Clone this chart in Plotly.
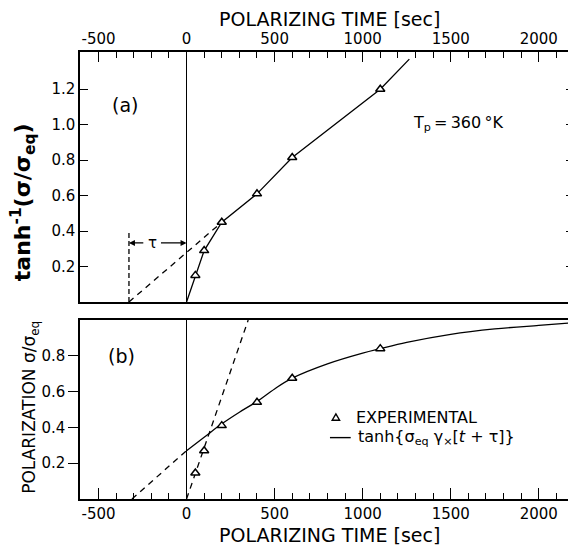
import plotly.graph_objects as go

# ---- data ----
t_exp = [50, 100, 200, 400, 600, 1100]
a_exp = [0.15, 0.29, 0.45, 0.61, 0.815, 1.20]          # tanh^-1(sigma/sigma_eq)
b_exp = [0.145, 0.27, 0.41, 0.54, 0.675, 0.84]         # sigma/sigma_eq

t_a_line = [0, 50, 100, 200, 400, 600, 1100, 1265]
a_line = [0, 0.15, 0.29, 0.45, 0.61, 0.815, 1.20, 1.37]
t_a_dash = [-327, 200]
a_dash = [0, 0.45]
t_tau_mark = [-327, -327]
a_tau_mark = [0, 0.395]
tau_start = -327
tau_arrow_level = 0.333

t_b_fit = [0, 100, 200, 300, 400, 500, 600, 800, 1000, 1100, 1250, 1500, 1750, 2000, 2200]
b_fit = [0.27, 0.345, 0.42, 0.485, 0.545, 0.615, 0.675, 0.755, 0.815, 0.84, 0.875, 0.92,
         0.95, 0.97, 0.985]
t_b_ext = [-310, 0]
b_ext = [0, 0.27]
t_b_init = [0, 350]
b_init = [0, 1.0]

x_ticks = [-500, 0, 500, 1000, 1500, 2000]
x_ticktext = ["-500", "0", "500", "1000", "1500", "2000"]
ya_ticks = [0.2, 0.4, 0.6, 0.8, 1.0, 1.2]
ya_ticktext = ["0.2", "0.4", "0.6", "0.8", "1.0", "1.2"]
yb_ticks = [0.2, 0.4, 0.6, 0.8]
yb_ticktext = ["0.2", "0.4", "0.6", "0.8"]

FONT = "DejaVu Sans"
BLK = "black"

fig = go.Figure()
line_w = 1.3
dash = "6px,5px"

# panel (a)
fig.add_trace(go.Scatter(x=t_a_line, y=a_line, mode="lines", line=dict(color=BLK, width=line_w),
                         xaxis="x", yaxis="y", showlegend=False))
fig.add_trace(go.Scatter(x=t_a_dash, y=a_dash, mode="lines", line=dict(color=BLK, width=line_w, dash=dash),
                         xaxis="x", yaxis="y", showlegend=False))
fig.add_trace(go.Scatter(x=t_tau_mark, y=a_tau_mark, mode="lines",
                         line=dict(color=BLK, width=line_w, dash="5px,3px"),
                         xaxis="x", yaxis="y", showlegend=False))
fig.add_trace(go.Scatter(x=t_exp, y=a_exp, mode="markers",
                         marker=dict(symbol="triangle-up", size=8, color="white",
                                     line=dict(color=BLK, width=1.5)),
                         xaxis="x", yaxis="y", showlegend=False))

# panel (b)
fig.add_trace(go.Scatter(x=t_b_ext, y=b_ext, mode="lines", line=dict(color=BLK, width=line_w, dash=dash),
                         xaxis="x2", yaxis="y2", showlegend=False))
fig.add_trace(go.Scatter(x=t_b_init, y=b_init, mode="lines", line=dict(color=BLK, width=line_w, dash=dash),
                         xaxis="x2", yaxis="y2", showlegend=False))
fig.add_trace(go.Scatter(x=t_b_fit, y=b_fit, mode="lines", line=dict(color=BLK, width=line_w, shape="spline"),
                         xaxis="x2", yaxis="y2", showlegend=False))
fig.add_trace(go.Scatter(x=t_exp, y=b_exp, mode="markers",
                         marker=dict(symbol="triangle-up", size=8, color="white",
                                     line=dict(color=BLK, width=1.5)),
                         xaxis="x2", yaxis="y2", showlegend=False))
# helper trace for the right-hand tick axis of panel (b)
fig.add_trace(go.Scatter(x=[None], y=[None], xaxis="x2", yaxis="y4", showlegend=False))

top_dom = [0.4407, 1.0]
bot_dom = [0.0, 0.4004]
xr = [-605, 2200]

axis_common = dict(showgrid=False, linecolor=BLK, linewidth=1.5, tickcolor=BLK,
                   tickfont=dict(family=FONT, size=15, color=BLK))

# the page has an 8px body margin, so the figure is laid out 8px up/left
fig.update_layout(
    width=576, height=550,
    margin=dict(l=72, r=8, t=44, b=59),
    plot_bgcolor="white", paper_bgcolor="white",
    font=dict(family=FONT, color=BLK),
    showlegend=False,
    xaxis=dict(**axis_common, domain=[0, 1], anchor="y", side="top", range=xr,
               tickvals=x_ticks, ticktext=x_ticktext, ticks="inside", ticklen=10, tickwidth=1.3,
               minor=dict(dtick=100, tick0=0, ticks="inside", ticklen=6, tickcolor=BLK, tickwidth=1.2),
               mirror=True, zeroline=True, zerolinecolor=BLK, zerolinewidth=1.3),
    yaxis=dict(**axis_common, domain=top_dom, anchor="x", range=[0, 1.41],
               tickvals=ya_ticks, ticktext=ya_ticktext, ticks="inside", ticklen=8, tickwidth=1.3,
               mirror="ticks", zeroline=False),
    xaxis2=dict(**axis_common, domain=[0, 1], anchor="y2", side="bottom", range=xr,
                tickvals=x_ticks, ticktext=x_ticktext, ticks="inside", ticklen=11, tickwidth=1.3,
                minor=dict(dtick=100, tick0=0, ticks="inside", ticklen=6, tickcolor=BLK, tickwidth=1.2),
                mirror=True, zeroline=True, zerolinecolor=BLK, zerolinewidth=1.3),
    yaxis2=dict(**axis_common, domain=bot_dom, anchor="x2", range=[0, 1.0],
                tickvals=yb_ticks, ticktext=yb_ticktext, ticks="outside", ticklen=10, tickwidth=1.3,
                mirror=True, zeroline=False),
    yaxis4=dict(overlaying="y2", side="right", anchor="x2", range=[0, 1.0], tickvals=yb_ticks,
                showticklabels=False, ticks="inside", ticklen=6, tickcolor=BLK, tickwidth=1.3,
                showgrid=False, showline=False, zeroline=False),
)

# legend glyphs (panel b, in axis-domain units)
tri_x, tri_y, tri_dx, tri_dy = 0.518, 0.458, 0.0075, 0.018
shapes = [
    dict(type="path", xref="x2 domain", yref="y2 domain",
         path=f"M {tri_x - tri_dx},{tri_y - tri_dy} L {tri_x + tri_dx},{tri_y - tri_dy} "
              f"L {tri_x},{tri_y + tri_dy} Z",
         line=dict(color=BLK, width=1.4), fillcolor="white"),
    dict(type="line", xref="x2 domain", yref="y2 domain", x0=0.506, x1=0.548, y0=0.343, y1=0.343,
         line=dict(color=BLK, width=1.4)),
]
fig.update_layout(shapes=shapes)

ann = [
    dict(text="POLARIZING TIME [sec]", xref="paper", yref="paper", x=0.505, y=1, yshift=33,
         showarrow=False, font=dict(family=FONT, size=19), xanchor="center", yanchor="middle"),
    dict(text="POLARIZING TIME [sec]", xref="paper", yref="paper", x=0.505, y=0, yshift=-36,
         showarrow=False, font=dict(family=FONT, size=19), xanchor="center", yanchor="middle"),
    dict(text="<b>tanh<sup>-1</sup>(σ/σ<sub>eq</sub>)</b>", xref="paper", yref="paper", x=0, xshift=-57,
         y=0.664, textangle=-90, showarrow=False, font=dict(family=FONT, size=22),
         xanchor="center", yanchor="middle"),
    dict(text="POLARIZATION σ/σ<sub>eq</sub>", xref="paper", yref="paper", x=0, xshift=-49,
         y=0.204, textangle=-90, showarrow=False, font=dict(family=FONT, size=17),
         xanchor="center", yanchor="middle"),
    dict(text="(a)", xref="x domain", yref="y domain", x=0.091, y=0.79, showarrow=False,
         font=dict(family=FONT, size=19), xanchor="center", yanchor="middle"),
    dict(text="(b)", xref="x2 domain", yref="y2 domain", x=0.085, y=0.80, showarrow=False,
         font=dict(family=FONT, size=19), xanchor="center", yanchor="middle"),
    dict(text="T<sub>p</sub>\u2009=\u2009360\u2009°K", xref="x domain", yref="y domain", x=0.671, y=0.716,
         showarrow=False, font=dict(family=FONT, size=16), xanchor="left", yanchor="middle"),
    dict(text="EXPERIMENTAL", xref="x2 domain", yref="y2 domain", x=0.5544, y=0.458,
         showarrow=False, font=dict(family=FONT, size=16), xanchor="left", yanchor="middle"),
    dict(text="tanh{σ<sub>eq</sub> γ<sub>×</sub>[<i>t</i> + τ]}", xref="x2 domain", yref="y2 domain",
         x=0.5585, y=0.343, showarrow=False, font=dict(family=FONT, size=16),
         xanchor="left", yanchor="middle"),
    dict(text="τ", xref="x", yref="y", x=tau_start * 0.6, y=tau_arrow_level, showarrow=False,
         font=dict(family=FONT, size=15), xanchor="center", yanchor="middle"),
    dict(text="", xref="x", yref="y", x=tau_start, y=tau_arrow_level, axref="x", ayref="y",
         ax=tau_start * 0.725, ay=tau_arrow_level, showarrow=True, arrowhead=2, arrowsize=1,
         arrowwidth=1.2, arrowcolor=BLK),
    dict(text="", xref="x", yref="y", x=0, y=tau_arrow_level, axref="x", ayref="y",
         ax=tau_start * 0.47, ay=tau_arrow_level, showarrow=True, arrowhead=2, arrowsize=1,
         arrowwidth=1.2, arrowcolor=BLK),
]
fig.update_layout(annotations=ann)

fig.write_html("out.html")
